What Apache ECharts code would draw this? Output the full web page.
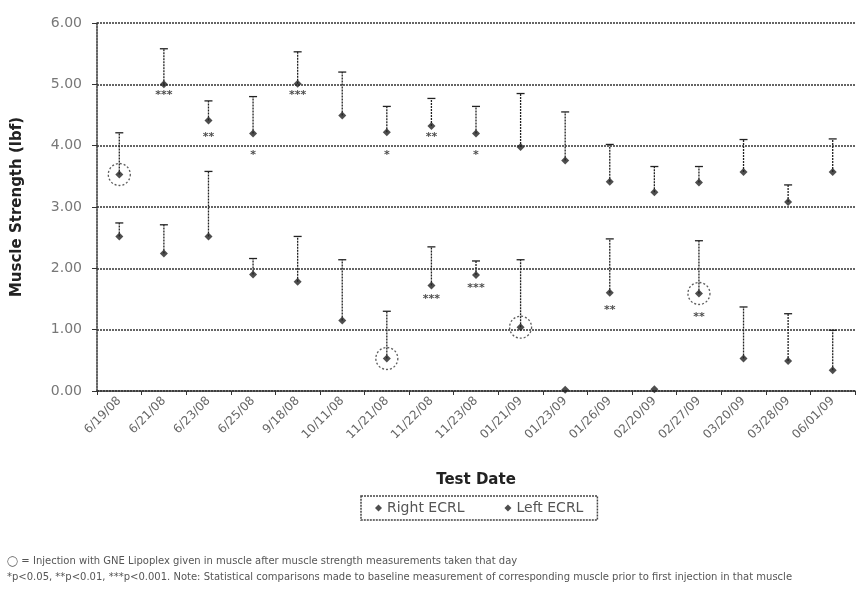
<!DOCTYPE html>
<html>
<head>
<meta charset="utf-8">
<script src="https://cdn.jsdelivr.net/npm/echarts@6/dist/echarts.min.js"></script>
<style>
html,body{margin:0;padding:0;background:#fff;}
#chart{width:857px;height:589px;}
</style>
</head>
<body>
<div id="chart"></div>
<script>
// ---- data ----
var categories = ['6/19/08','6/21/08','6/23/08','6/25/08','9/18/08','10/11/08','11/21/08','11/22/08','11/23/08','01/21/09','01/23/09','01/26/09','02/20/09','02/27/09','03/20/09','03/28/09','06/01/09'];
var yTicks = [0, 1, 2, 3, 4, 5, 6];
var rightMean = [3.53, 5.00, 4.41, 4.20, 5.01, 4.49, 4.22, 4.32, 4.20, 3.98, 3.76, 3.41, 3.24, 3.40, 3.57, 3.08, 3.57];
var rightUpper = [4.21, 5.58, 4.73, 4.80, 5.53, 5.20, 4.64, 4.77, 4.64, 4.85, 4.55, 4.02, 3.66, 3.66, 4.10, 3.36, 4.11];
var leftMean = [2.52, 2.24, 2.52, 1.90, 1.78, 1.15, 0.53, 1.72, 1.89, 1.04, 0.02, 1.60, 0.03, 1.59, 0.53, 0.49, 0.34];
var leftUpper = [2.74, 2.71, 3.58, 2.16, 2.52, 2.14, 1.30, 2.35, 2.12, 2.14, null, 2.48, null, 2.45, 1.37, 1.26, 0.99];
var rightSig = ['', '***', '**', '*', '***', '', '*', '**', '*', '', '', '', '', '', '', '', ''];
var rightSigAt = [null, 4.82, 4.14, 3.85, 4.82, null, 3.84, 4.14, 3.85, null, null, null, null, null, null, null, null];
var leftSig = ['', '', '', '', '', '', '', '***', '***', '', '', '**', '', '**', '', '', ''];
var leftSigAt = [null, null, null, null, null, null, null, 1.49, 1.68, null, null, 1.32, null, 1.21, null, null, null];
var rightInjection = [1, 0, 0, 0, 0, 0, 0, 0, 0, 0, 0, 0, 0, 0, 0, 0, 0];
var leftInjection = [0, 0, 0, 0, 0, 0, 1, 0, 0, 1, 0, 0, 0, 1, 0, 0, 0];
var footnote1 = '\u25EF = Injection with GNE Lipoplex given in muscle after muscle strength measurements taken that day';
var footnote2 = '*p<0.05, **p<0.01, ***p<0.001. Note: Statistical comparisons made to baseline measurement of corresponding muscle prior to first injection in that muscle';

// ---- build ----
var FONT = '"DejaVu Sans", Verdana, sans-serif';
var INK = '#222';

function errData(mean, upper) {
  var out = [];
  for (var i = 0; i < mean.length; i++) {
    if (upper[i] != null) out.push([i, mean[i], upper[i]]);
  }
  return out;
}
function sigData(sig, at) {
  var out = [];
  for (var i = 0; i < sig.length; i++) {
    if (sig[i]) out.push({value: [i, at[i]], label: {formatter: sig[i]}});
  }
  return out;
}
function injData(flags, mean) {
  var out = [];
  for (var i = 0; i < flags.length; i++) {
    if (flags[i]) out.push([i, mean[i]]);
  }
  return out;
}
function renderErr(params, api) {
  var p0 = api.coord([api.value(0), api.value(1)]);
  var p1 = api.coord([api.value(0), api.value(2)]);
  var cap = 4;
  var st = {stroke: INK, lineWidth: 1.3, lineDash: [2, 1]};
  return {
    type: 'group',
    children: [
      {type: 'line', shape: {x1: p0[0], y1: p0[1], x2: p1[0], y2: p1[1]}, style: st},
      {type: 'line', shape: {x1: p1[0] - cap, y1: p1[1], x2: p1[0] + cap, y2: p1[1]}, style: {stroke: INK, lineWidth: 1.3}}
    ]
  };
}
var sigLabel = {show: true, position: 'inside', fontFamily: FONT, fontSize: 11, fontWeight: 'bold', color: INK};

var chart = echarts.init(document.getElementById('chart'));
chart.setOption({
  animation: false,
  backgroundColor: '#fff',
  grid: {left: 97, right: 2, top: 23, bottom: 198},
  legend: {
    data: [
      {name: 'Right ECRL', icon: 'diamond'},
      {name: 'Left ECRL', icon: 'diamond'}
    ],
    left: 361, top: 496,
    itemWidth: 7, itemHeight: 7, itemGap: 40,
    borderColor: '#444', borderWidth: 1.5, borderType: [2, 1],
    padding: [5, 14, 5, 14],
    textStyle: {fontFamily: FONT, fontSize: 14, color: '#555'}
  },
  xAxis: {
    type: 'category',
    data: categories,
    boundaryGap: true,
    name: 'Test Date',
    nameLocation: 'middle',
    nameGap: 82,
    nameTextStyle: {fontFamily: FONT, fontSize: 15, fontWeight: 'bold', color: INK},
    axisLine: {lineStyle: {color: '#333', width: 1.5, type: [2, 1]}},
    axisTick: {show: true, length: 4, lineStyle: {color: '#333'}},
    axisLabel: {rotate: 45, fontFamily: FONT, fontSize: 12, color: '#666', margin: 8, interval: 0}
  },
  yAxis: {
    type: 'value',
    min: 0, max: 6, interval: 1,
    name: 'Muscle Strength (lbf)',
    nameLocation: 'middle',
    nameGap: 72,
    nameTextStyle: {fontFamily: FONT, fontSize: 15, fontWeight: 'bold', color: INK},
    axisLine: {show: true, lineStyle: {color: '#333', width: 1.5, type: [2, 1]}},
    axisTick: {show: true, length: 5, lineStyle: {color: '#333'}},
    axisLabel: {
      fontFamily: FONT, fontSize: 14, color: '#777', margin: 15,
      formatter: function (v) { return yTicks.indexOf(v) >= 0 ? v.toFixed(2) : ''; }
    },
    splitLine: {show: true, lineStyle: {color: '#333', width: 1.5, type: [2, 1]}}
  },
  series: [
    {type: 'custom', name: 'rightErr', renderItem: renderErr, data: errData(rightMean, rightUpper), encode: {x: 0, y: [1, 2]}, z: 3},
    {type: 'custom', name: 'leftErr', renderItem: renderErr, data: errData(leftMean, leftUpper), encode: {x: 0, y: [1, 2]}, z: 3},
    {type: 'scatter', name: 'Right ECRL', symbol: 'diamond', symbolSize: 8, itemStyle: {color: INK}, data: rightMean, z: 4},
    {type: 'scatter', name: 'Left ECRL', symbol: 'diamond', symbolSize: 8, itemStyle: {color: INK}, data: leftMean, z: 4},
    {type: 'scatter', name: 'rightSig', symbol: 'circle', symbolSize: 2, itemStyle: {color: 'transparent'},
     data: sigData(rightSig, rightSigAt), label: sigLabel, z: 6},
    {type: 'scatter', name: 'leftSig', symbol: 'circle', symbolSize: 2, itemStyle: {color: 'transparent'},
     data: sigData(leftSig, leftSigAt), label: sigLabel, z: 6},
    {type: 'scatter', name: 'rightInj', symbol: 'circle', symbolSize: 22, data: injData(rightInjection, rightMean),
     itemStyle: {color: 'transparent', borderColor: '#333', borderWidth: 1.3, borderType: [2, 2]}, z: 5},
    {type: 'scatter', name: 'leftInj', symbol: 'circle', symbolSize: 22, data: injData(leftInjection, leftMean),
     itemStyle: {color: 'transparent', borderColor: '#333', borderWidth: 1.3, borderType: [2, 2]}, z: 5}
  ],
  graphic: [
    {type: 'text', left: 7, top: 556, style: {text: footnote1, fontFamily: 'DejaVu Sans', fontSize: 10, fill: '#555'}},
    {type: 'text', left: 7, top: 572, style: {text: footnote2, fontFamily: 'DejaVu Sans', fontSize: 10, fill: '#555'}}
  ]
});
</script>
</body>
</html>
